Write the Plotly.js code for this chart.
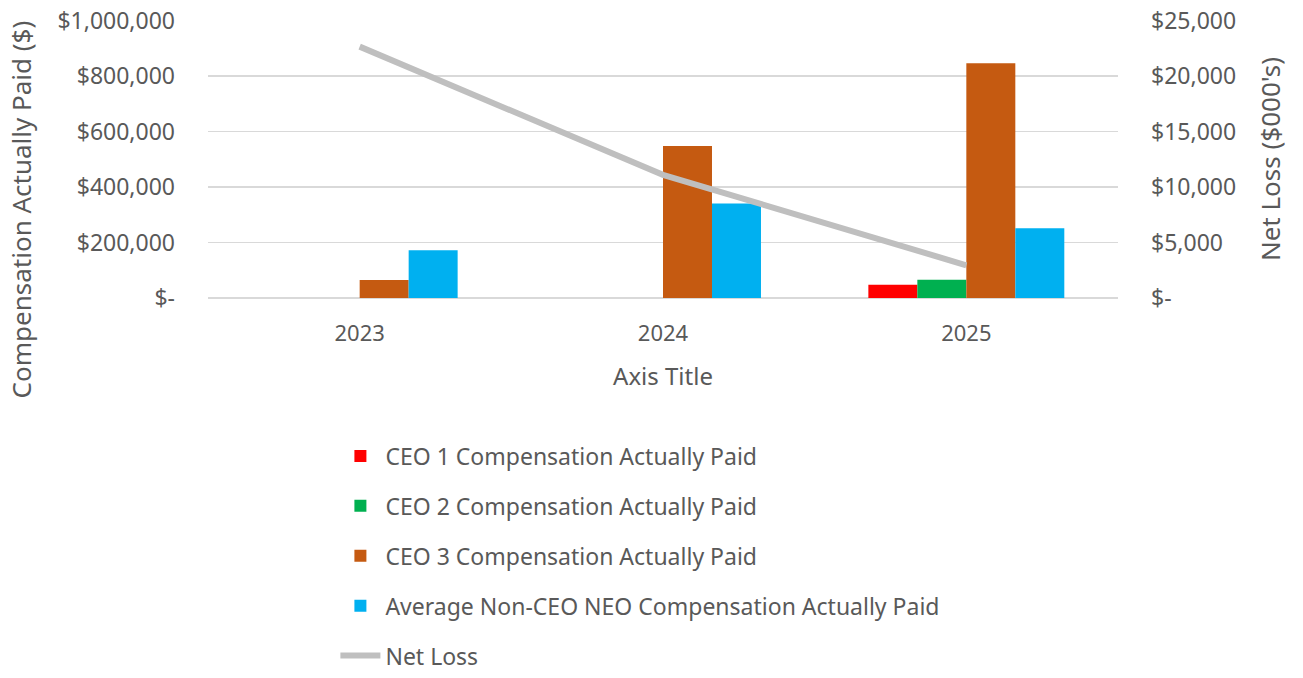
<!DOCTYPE html>
<html>
<head>
<meta charset="utf-8">
<script src="https://cdn.plot.ly/plotly-3.0.1.min.js"></script>
<style>html,body{margin:0;padding:0;background:#fff;}#chart{width:1303px;height:678px;}</style>
</head>
<body>
<div id="chart"></div>
<script>
const years = ["2023", "2024", "2025"];
const ceo1 = [null, null, 48000];
const ceo2 = [null, null, 66000];
const ceo3 = [65000, 548000, 846000];
const nonCeo = [172000, 341000, 251000];
const netLoss = [22650, 11100, 2950];

const leftTickVals = [0, 200000, 400000, 600000, 800000, 1000000];
const leftTickText = ["$-", "$200,000", "$400,000", "$600,000", "$800,000", "$1,000,000"];
const rightTickVals = [0, 5000, 10000, 15000, 20000, 25000];
const rightTickText = ["$-", "$5,000", "$10,000", "$15,000", "$20,000", "$25,000"];

const FONT = "Noto Sans, Open Sans, sans-serif";
const GREY = "#595959";

const traces = [
  {type: "bar", name: "CEO 1 Compensation Actually Paid", x: years, y: ceo1, marker: {color: "#FF0000"}, legendgroup: "a"},
  {type: "bar", name: "CEO 2 Compensation Actually Paid", x: years, y: ceo2, marker: {color: "#00B050"}, legendgroup: "b"},
  {type: "bar", name: "CEO 3 Compensation Actually Paid", x: years, y: ceo3, marker: {color: "#C55A11"}, legendgroup: "c"},
  {type: "bar", name: "Average Non-CEO NEO Compensation Actually Paid", x: years, y: nonCeo, marker: {color: "#00B0F0"}, legendgroup: "d"},
  {type: "scatter", mode: "lines", name: "Net Loss", x: years, y: netLoss, yaxis: "y2", line: {color: "#BFBFBF", width: 6}, legendgroup: "e"}
];

const layout = {
  width: 1303, height: 678,
  margin: {l: 208, r: 185, t: 20, b: 380, autoexpand: false},
  paper_bgcolor: "#fff", plot_bgcolor: "#fff",
  font: {family: FONT, color: GREY, size: 22},
  barmode: "group",
  bargap: 0.354,
  bargroupgap: 0,
  showlegend: true,
  legend: {
    orientation: "v", x: 0.140, xanchor: "left", y: -0.491, yanchor: "top",
    font: {family: FONT, size: 23, color: GREY},
    tracegroupgap: 17, traceorder: "grouped", itemwidth: 40
  },
  xaxis: {
    type: "category", showgrid: false, zeroline: false, showline: false,
    ticks: "", ticklabelstandoff: 20, tickfont: {size: 22, color: GREY},
    title: {text: "Axis Title", font: {size: 24, color: GREY}, standoff: 22}
  },
  yaxis: {
    range: [0, 1002000], tickvals: leftTickVals, ticktext: leftTickText,
    showgrid: true, gridcolor: "#D9D9D9", gridwidth: 1.5,
    zeroline: true, zerolinecolor: "#D9D9D9", zerolinewidth: 1.5, showline: false,
    ticks: "", ticklabelstandoff: 32, tickfont: {size: 23, color: GREY}
  },
  yaxis2: {
    overlaying: "y", side: "right", range: [0, 25050],
    tickvals: rightTickVals, ticktext: rightTickText,
    showgrid: false, zeroline: false, showline: false,
    ticks: "", ticklabelstandoff: 32, tickfont: {size: 23, color: GREY},
    title: {text: "Net Loss ($000's)", font: {size: 26, color: GREY}, standoff: 26}
  },
  annotations: [{
    text: "Compensation Actually Paid ($)", xref: "paper", yref: "paper",
    x: -0.206, y: 0.317, xanchor: "center", yanchor: "middle", textangle: -90,
    showarrow: false, font: {family: FONT, size: 26, color: GREY}
  }]
};

Plotly.newPlot("chart", traces, layout, {displayModeBar: false, staticPlot: true});
</script>
</body>
</html>
